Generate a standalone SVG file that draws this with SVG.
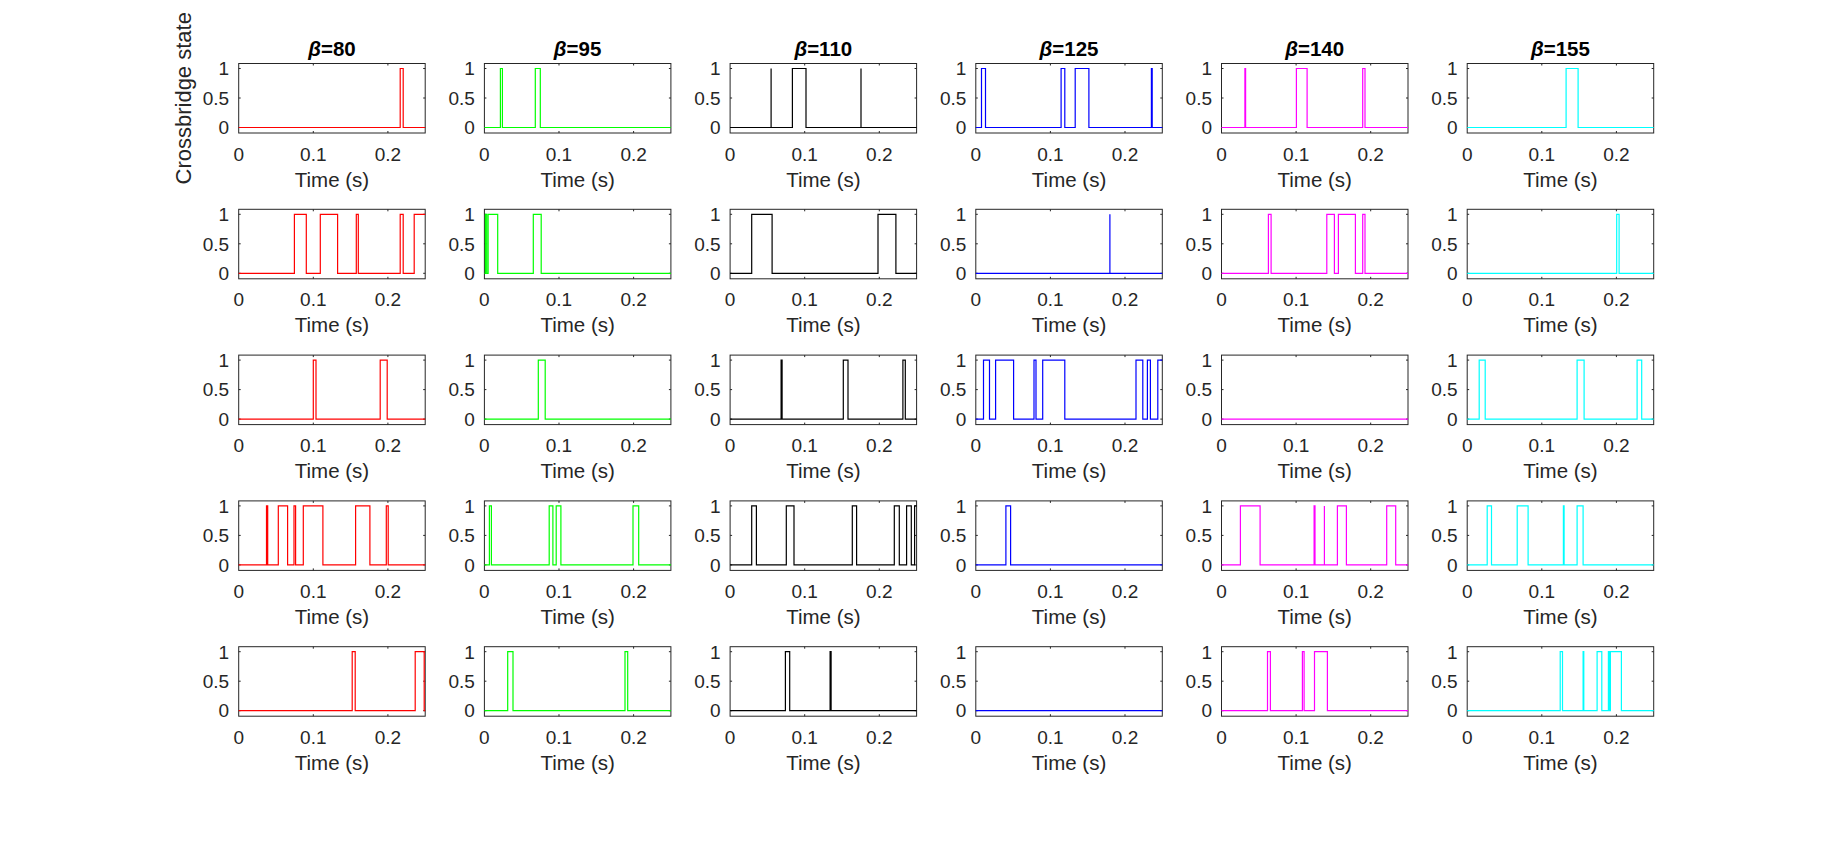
<svg xmlns="http://www.w3.org/2000/svg" xmlns:xlink="http://www.w3.org/1999/xlink" width="1828" height="844" viewBox="0 0 1828 844">
<style>
.box{fill:none;stroke:#262626;stroke-width:1}
.tk{fill:none;stroke:#262626;stroke-width:1}
.tl{font-family:"Liberation Sans",Arial,sans-serif;font-size:19px;fill:#262626}
.xt{text-anchor:middle}
.yt{text-anchor:end}
.xl{font-family:"Liberation Sans",Arial,sans-serif;font-size:20.5px;fill:#262626;text-anchor:middle}
.yl{font-family:"Liberation Sans",Arial,sans-serif;font-size:22px;fill:#262626;text-anchor:middle}
.ti{font-family:"Liberation Sans",Arial,sans-serif;font-size:20.5px;font-weight:bold;fill:#000;text-anchor:middle}
.d{fill:none;stroke-width:1.2;stroke-linejoin:miter}
.c1{stroke:#ff0000}.c2{stroke:#00ff00}.c3{stroke:#000000}.c4{stroke:#0000ff}.c5{stroke:#ff00ff}.c6{stroke:#00ffff}
</style>
<defs>
<g id="fr"><rect class="box" x="0" y="0" width="186.5" height="69.5"/><path class="tk" d="M74.6 0v2M149.2 0v2M74.6 69.5v-2M149.2 69.5v-2M0 5h2M0 34.5h2M0 64h2M186.5 5h-2M186.5 34.5h-2M186.5 64h-2"/></g>
</defs>
<rect x="0" y="0" width="1828" height="844" fill="#ffffff"/>
<text class="yl" transform="translate(190.5,98.3) rotate(-90)">Crossbridge state</text>
<g id="titles">
<text class="ti" x="332" y="55.5"><tspan font-style="italic">β</tspan>=80</text>
<text class="ti" x="577.6" y="55.5"><tspan font-style="italic">β</tspan>=95</text>
<text class="ti" x="823.3" y="55.5"><tspan font-style="italic">β</tspan>=110</text>
<text class="ti" x="1069" y="55.5"><tspan font-style="italic">β</tspan>=125</text>
<text class="ti" x="1314.7" y="55.5"><tspan font-style="italic">β</tspan>=140</text>
<text class="ti" x="1560.4" y="55.5"><tspan font-style="italic">β</tspan>=155</text>
</g>

<!-- Column 1 -->
<g id="r1c1" transform="translate(238.7,63.5)"><use xlink:href="#fr"/><path class="d c1" d="M0 64H161.5V5H164.5V64H186.5"/>
<text class="tl yt" x="-9.5" y="11.8">1</text><text class="tl yt" x="-9.5" y="41.3">0.5</text><text class="tl yt" x="-9.5" y="70.8">0</text>
<text class="tl xt" x="0" y="97">0</text><text class="tl xt" x="74.6" y="97">0.1</text><text class="tl xt" x="149.2" y="97">0.2</text><text class="xl" x="93.25" y="123">Time (s)</text></g>
<g id="r2c1" transform="translate(238.7,209.3)"><use xlink:href="#fr"/><path class="d c1" d="M0 64H55.7V5H67.6V64H81.6V5H98.9V64H117.6V5H119.6V64H161.5V5H164.5V64H175.5V5H186.5"/>
<text class="tl yt" x="-9.5" y="11.8">1</text><text class="tl yt" x="-9.5" y="41.3">0.5</text><text class="tl yt" x="-9.5" y="70.8">0</text>
<text class="tl xt" x="0" y="97">0</text><text class="tl xt" x="74.6" y="97">0.1</text><text class="tl xt" x="149.2" y="97">0.2</text><text class="xl" x="93.25" y="123">Time (s)</text></g>
<g id="r3c1" transform="translate(238.7,355.1)"><use xlink:href="#fr"/><path class="d c1" d="M0 64H74.6V5H77.3V64H141.5V5H148.5V64H186.5"/>
<text class="tl yt" x="-9.5" y="11.8">1</text><text class="tl yt" x="-9.5" y="41.3">0.5</text><text class="tl yt" x="-9.5" y="70.8">0</text>
<text class="tl xt" x="0" y="97">0</text><text class="tl xt" x="74.6" y="97">0.1</text><text class="tl xt" x="149.2" y="97">0.2</text><text class="xl" x="93.25" y="123">Time (s)</text></g>
<g id="r4c1" transform="translate(238.7,500.9)"><use xlink:href="#fr"/><path class="d c1" d="M0 64H27.8V5H29V64H39.6V5H48.9V64H55.3V5H56.9V64H64.6V5H84.2V64H116.9V5H131.2V64H147.6V5H149.5V64H186.5"/>
<text class="tl yt" x="-9.5" y="11.8">1</text><text class="tl yt" x="-9.5" y="41.3">0.5</text><text class="tl yt" x="-9.5" y="70.8">0</text>
<text class="tl xt" x="0" y="97">0</text><text class="tl xt" x="74.6" y="97">0.1</text><text class="tl xt" x="149.2" y="97">0.2</text><text class="xl" x="93.25" y="123">Time (s)</text></g>
<g id="r5c1" transform="translate(238.7,646.7)"><use xlink:href="#fr"/><path class="d c1" d="M0 64H113.5V5H116.5V64H176.5V5H185.5V64H186.5"/>
<text class="tl yt" x="-9.5" y="11.8">1</text><text class="tl yt" x="-9.5" y="41.3">0.5</text><text class="tl yt" x="-9.5" y="70.8">0</text>
<text class="tl xt" x="0" y="97">0</text><text class="tl xt" x="74.6" y="97">0.1</text><text class="tl xt" x="149.2" y="97">0.2</text><text class="xl" x="93.25" y="123">Time (s)</text></g>

<!-- Column 2 -->
<g id="r1c2" transform="translate(484.4,63.5)"><use xlink:href="#fr"/><path class="d c2" d="M0 64H16V5H18V64H50.9V5H55.9V64H186.5"/>
<text class="tl yt" x="-9.5" y="11.8">1</text><text class="tl yt" x="-9.5" y="41.3">0.5</text><text class="tl yt" x="-9.5" y="70.8">0</text>
<text class="tl xt" x="0" y="97">0</text><text class="tl xt" x="74.6" y="97">0.1</text><text class="tl xt" x="149.2" y="97">0.2</text><text class="xl" x="93.25" y="123">Time (s)</text></g>
<g id="r2c2" transform="translate(484.4,209.3)"><use xlink:href="#fr"/><path class="d c2" d="M0 64H1V5H2.3V64H3.7V5H13.3V64H48.9V5H56.8V64H186.5"/>
<text class="tl yt" x="-9.5" y="11.8">1</text><text class="tl yt" x="-9.5" y="41.3">0.5</text><text class="tl yt" x="-9.5" y="70.8">0</text>
<text class="tl xt" x="0" y="97">0</text><text class="tl xt" x="74.6" y="97">0.1</text><text class="tl xt" x="149.2" y="97">0.2</text><text class="xl" x="93.25" y="123">Time (s)</text></g>
<g id="r3c2" transform="translate(484.4,355.1)"><use xlink:href="#fr"/><path class="d c2" d="M0 64H53.9V5H60.8V64H186.5"/>
<text class="tl yt" x="-9.5" y="11.8">1</text><text class="tl yt" x="-9.5" y="41.3">0.5</text><text class="tl yt" x="-9.5" y="70.8">0</text>
<text class="tl xt" x="0" y="97">0</text><text class="tl xt" x="74.6" y="97">0.1</text><text class="tl xt" x="149.2" y="97">0.2</text><text class="xl" x="93.25" y="123">Time (s)</text></g>
<g id="r4c2" transform="translate(484.4,500.9)"><use xlink:href="#fr"/><path class="d c2" d="M0 64H5V5H7V64H64.8V5H68.5V64H71.8V5H76.5V64H148.6V5H154.3V64H186.5"/>
<text class="tl yt" x="-9.5" y="11.8">1</text><text class="tl yt" x="-9.5" y="41.3">0.5</text><text class="tl yt" x="-9.5" y="70.8">0</text>
<text class="tl xt" x="0" y="97">0</text><text class="tl xt" x="74.6" y="97">0.1</text><text class="tl xt" x="149.2" y="97">0.2</text><text class="xl" x="93.25" y="123">Time (s)</text></g>
<g id="r5c2" transform="translate(484.4,646.7)"><use xlink:href="#fr"/><path class="d c2" d="M0 64H23.3V5H28.6V64H140.6V5H143.3V64H186.5"/>
<text class="tl yt" x="-9.5" y="11.8">1</text><text class="tl yt" x="-9.5" y="41.3">0.5</text><text class="tl yt" x="-9.5" y="70.8">0</text>
<text class="tl xt" x="0" y="97">0</text><text class="tl xt" x="74.6" y="97">0.1</text><text class="tl xt" x="149.2" y="97">0.2</text><text class="xl" x="93.25" y="123">Time (s)</text></g>

<!-- Column 3 -->
<g id="r1c3" transform="translate(730.1,63.5)"><use xlink:href="#fr"/><path class="d c3" d="M0 64H41V5V64H62.3V5H75.9V64H130.9V5V64H186.5"/>
<text class="tl yt" x="-9.5" y="11.8">1</text><text class="tl yt" x="-9.5" y="41.3">0.5</text><text class="tl yt" x="-9.5" y="70.8">0</text>
<text class="tl xt" x="0" y="97">0</text><text class="tl xt" x="74.6" y="97">0.1</text><text class="tl xt" x="149.2" y="97">0.2</text><text class="xl" x="93.25" y="123">Time (s)</text></g>
<g id="r2c3" transform="translate(730.1,209.3)"><use xlink:href="#fr"/><path class="d c3" d="M0 64H21.6V5H42V64H147.9V5H165.8V64H186.5"/>
<text class="tl yt" x="-9.5" y="11.8">1</text><text class="tl yt" x="-9.5" y="41.3">0.5</text><text class="tl yt" x="-9.5" y="70.8">0</text>
<text class="tl xt" x="0" y="97">0</text><text class="tl xt" x="74.6" y="97">0.1</text><text class="tl xt" x="149.2" y="97">0.2</text><text class="xl" x="93.25" y="123">Time (s)</text></g>
<g id="r3c3" transform="translate(730.1,355.1)"><use xlink:href="#fr"/><path class="d c3" d="M0 64H51V5H52V64H113.2V5H117.9V64H172.8V5H175.2V64H186.5"/>
<text class="tl yt" x="-9.5" y="11.8">1</text><text class="tl yt" x="-9.5" y="41.3">0.5</text><text class="tl yt" x="-9.5" y="70.8">0</text>
<text class="tl xt" x="0" y="97">0</text><text class="tl xt" x="74.6" y="97">0.1</text><text class="tl xt" x="149.2" y="97">0.2</text><text class="xl" x="93.25" y="123">Time (s)</text></g>
<g id="r4c3" transform="translate(730.1,500.9)"><use xlink:href="#fr"/><path class="d c3" d="M0 64H21.6V5H26.3V64H56.2V5H63.9V64H122.2V5H126.5V64H164.2V5H169.2V64H176.5V5H181.2V64H184.5V5H186.5"/>
<text class="tl yt" x="-9.5" y="11.8">1</text><text class="tl yt" x="-9.5" y="41.3">0.5</text><text class="tl yt" x="-9.5" y="70.8">0</text>
<text class="tl xt" x="0" y="97">0</text><text class="tl xt" x="74.6" y="97">0.1</text><text class="tl xt" x="149.2" y="97">0.2</text><text class="xl" x="93.25" y="123">Time (s)</text></g>
<g id="r5c3" transform="translate(730.1,646.7)"><use xlink:href="#fr"/><path class="d c3" d="M0 64H55.3V5H59.6V64H100V5H101V64H186.5"/>
<text class="tl yt" x="-9.5" y="11.8">1</text><text class="tl yt" x="-9.5" y="41.3">0.5</text><text class="tl yt" x="-9.5" y="70.8">0</text>
<text class="tl xt" x="0" y="97">0</text><text class="tl xt" x="74.6" y="97">0.1</text><text class="tl xt" x="149.2" y="97">0.2</text><text class="xl" x="93.25" y="123">Time (s)</text></g>

<!-- Column 4 -->
<g id="r1c4" transform="translate(975.8,63.5)"><use xlink:href="#fr"/><path class="d c4" d="M0 64H5.7V5H9.7V64H85.3V5H89V64H99.4V5H113.1V64H175.6V5H176.4V64H186.5"/>
<text class="tl yt" x="-9.5" y="11.8">1</text><text class="tl yt" x="-9.5" y="41.3">0.5</text><text class="tl yt" x="-9.5" y="70.8">0</text>
<text class="tl xt" x="0" y="97">0</text><text class="tl xt" x="74.6" y="97">0.1</text><text class="tl xt" x="149.2" y="97">0.2</text><text class="xl" x="93.25" y="123">Time (s)</text></g>
<g id="r2c4" transform="translate(975.8,209.3)"><use xlink:href="#fr"/><path class="d c4" d="M0 64H134.1V5V64H186.5"/>
<text class="tl yt" x="-9.5" y="11.8">1</text><text class="tl yt" x="-9.5" y="41.3">0.5</text><text class="tl yt" x="-9.5" y="70.8">0</text>
<text class="tl xt" x="0" y="97">0</text><text class="tl xt" x="74.6" y="97">0.1</text><text class="tl xt" x="149.2" y="97">0.2</text><text class="xl" x="93.25" y="123">Time (s)</text></g>
<g id="r3c4" transform="translate(975.8,355.1)"><use xlink:href="#fr"/><path class="d c4" d="M0 64H7.7V5H13.7V64H19.8V5H37.8V64H58.2V5H60.2V64H66.9V5H89V64H160.2V5H167V64H171.6V5H174.6V64H182V5H186.5"/>
<text class="tl yt" x="-9.5" y="11.8">1</text><text class="tl yt" x="-9.5" y="41.3">0.5</text><text class="tl yt" x="-9.5" y="70.8">0</text>
<text class="tl xt" x="0" y="97">0</text><text class="tl xt" x="74.6" y="97">0.1</text><text class="tl xt" x="149.2" y="97">0.2</text><text class="xl" x="93.25" y="123">Time (s)</text></g>
<g id="r4c4" transform="translate(975.8,500.9)"><use xlink:href="#fr"/><path class="d c4" d="M0 64H30.1V5H34.8V64H186.5"/>
<text class="tl yt" x="-9.5" y="11.8">1</text><text class="tl yt" x="-9.5" y="41.3">0.5</text><text class="tl yt" x="-9.5" y="70.8">0</text>
<text class="tl xt" x="0" y="97">0</text><text class="tl xt" x="74.6" y="97">0.1</text><text class="tl xt" x="149.2" y="97">0.2</text><text class="xl" x="93.25" y="123">Time (s)</text></g>
<g id="r5c4" transform="translate(975.8,646.7)"><use xlink:href="#fr"/><path class="d c4" d="M0 64H186.5"/>
<text class="tl yt" x="-9.5" y="11.8">1</text><text class="tl yt" x="-9.5" y="41.3">0.5</text><text class="tl yt" x="-9.5" y="70.8">0</text>
<text class="tl xt" x="0" y="97">0</text><text class="tl xt" x="74.6" y="97">0.1</text><text class="tl xt" x="149.2" y="97">0.2</text><text class="xl" x="93.25" y="123">Time (s)</text></g>

<!-- Column 5 -->
<g id="r1c5" transform="translate(1221.5,63.5)"><use xlink:href="#fr"/><path class="d c5" d="M0 64H23.4V5H24.1V64H74.9V5H85.6V64H141.2V5H143.5V64H186.5"/>
<text class="tl yt" x="-9.5" y="11.8">1</text><text class="tl yt" x="-9.5" y="41.3">0.5</text><text class="tl yt" x="-9.5" y="70.8">0</text>
<text class="tl xt" x="0" y="97">0</text><text class="tl xt" x="74.6" y="97">0.1</text><text class="tl xt" x="149.2" y="97">0.2</text><text class="xl" x="93.25" y="123">Time (s)</text></g>
<g id="r2c5" transform="translate(1221.5,209.3)"><use xlink:href="#fr"/><path class="d c5" d="M0 64H46.9V5H49.6V64H105.3V5H112.9V64H116.9V5H133.9V64H141.2V5H143.5V64H186.5"/>
<text class="tl yt" x="-9.5" y="11.8">1</text><text class="tl yt" x="-9.5" y="41.3">0.5</text><text class="tl yt" x="-9.5" y="70.8">0</text>
<text class="tl xt" x="0" y="97">0</text><text class="tl xt" x="74.6" y="97">0.1</text><text class="tl xt" x="149.2" y="97">0.2</text><text class="xl" x="93.25" y="123">Time (s)</text></g>
<g id="r3c5" transform="translate(1221.5,355.1)"><use xlink:href="#fr"/><path class="d c5" d="M0 64H186.5"/>
<text class="tl yt" x="-9.5" y="11.8">1</text><text class="tl yt" x="-9.5" y="41.3">0.5</text><text class="tl yt" x="-9.5" y="70.8">0</text>
<text class="tl xt" x="0" y="97">0</text><text class="tl xt" x="74.6" y="97">0.1</text><text class="tl xt" x="149.2" y="97">0.2</text><text class="xl" x="93.25" y="123">Time (s)</text></g>
<g id="r4c5" transform="translate(1221.5,500.9)"><use xlink:href="#fr"/><path class="d c5" d="M0 64H18.9V5H38.6V64H92.6V5H93.5V64H102.9V5V64H115.9V5H124.9V64H165.2V5H174.2V64H186.5"/>
<text class="tl yt" x="-9.5" y="11.8">1</text><text class="tl yt" x="-9.5" y="41.3">0.5</text><text class="tl yt" x="-9.5" y="70.8">0</text>
<text class="tl xt" x="0" y="97">0</text><text class="tl xt" x="74.6" y="97">0.1</text><text class="tl xt" x="149.2" y="97">0.2</text><text class="xl" x="93.25" y="123">Time (s)</text></g>
<g id="r5c5" transform="translate(1221.5,646.7)"><use xlink:href="#fr"/><path class="d c5" d="M0 64H46V5H48.9V64H80.9V5H82.6V64H93V5H105.9V64H186.5"/>
<text class="tl yt" x="-9.5" y="11.8">1</text><text class="tl yt" x="-9.5" y="41.3">0.5</text><text class="tl yt" x="-9.5" y="70.8">0</text>
<text class="tl xt" x="0" y="97">0</text><text class="tl xt" x="74.6" y="97">0.1</text><text class="tl xt" x="149.2" y="97">0.2</text><text class="xl" x="93.25" y="123">Time (s)</text></g>

<!-- Column 6 -->
<g id="r1c6" transform="translate(1467.2,63.5)"><use xlink:href="#fr"/><path class="d c6" d="M0 64H98.9V5H110.9V64H186.5"/>
<text class="tl yt" x="-9.5" y="11.8">1</text><text class="tl yt" x="-9.5" y="41.3">0.5</text><text class="tl yt" x="-9.5" y="70.8">0</text>
<text class="tl xt" x="0" y="97">0</text><text class="tl xt" x="74.6" y="97">0.1</text><text class="tl xt" x="149.2" y="97">0.2</text><text class="xl" x="93.25" y="123">Time (s)</text></g>
<g id="r2c6" transform="translate(1467.2,209.3)"><use xlink:href="#fr"/><path class="d c6" d="M0 64H149.5V5H151.9V64H186.5"/>
<text class="tl yt" x="-9.5" y="11.8">1</text><text class="tl yt" x="-9.5" y="41.3">0.5</text><text class="tl yt" x="-9.5" y="70.8">0</text>
<text class="tl xt" x="0" y="97">0</text><text class="tl xt" x="74.6" y="97">0.1</text><text class="tl xt" x="149.2" y="97">0.2</text><text class="xl" x="93.25" y="123">Time (s)</text></g>
<g id="r3c6" transform="translate(1467.2,355.1)"><use xlink:href="#fr"/><path class="d c6" d="M0 64H12V5H18V64H109.9V5H116.9V64H169.9V5H174.5V64H186.5"/>
<text class="tl yt" x="-9.5" y="11.8">1</text><text class="tl yt" x="-9.5" y="41.3">0.5</text><text class="tl yt" x="-9.5" y="70.8">0</text>
<text class="tl xt" x="0" y="97">0</text><text class="tl xt" x="74.6" y="97">0.1</text><text class="tl xt" x="149.2" y="97">0.2</text><text class="xl" x="93.25" y="123">Time (s)</text></g>
<g id="r4c6" transform="translate(1467.2,500.9)"><use xlink:href="#fr"/><path class="d c6" d="M0 64H20V5H24.3V64H50V5H60.9V64H96.2V5H96.9V64H109.9V5H115.9V64H186.5"/>
<text class="tl yt" x="-9.5" y="11.8">1</text><text class="tl yt" x="-9.5" y="41.3">0.5</text><text class="tl yt" x="-9.5" y="70.8">0</text>
<text class="tl xt" x="0" y="97">0</text><text class="tl xt" x="74.6" y="97">0.1</text><text class="tl xt" x="149.2" y="97">0.2</text><text class="xl" x="93.25" y="123">Time (s)</text></g>
<g id="r5c6" transform="translate(1467.2,646.7)"><use xlink:href="#fr"/><path class="d c6" d="M0 64H93V5H95.3V64H115.9V5H116.6V64H129.9V5H134.6V64H141.2V5H142.2V64H143.2V5H154.2V64H186.5"/>
<text class="tl yt" x="-9.5" y="11.8">1</text><text class="tl yt" x="-9.5" y="41.3">0.5</text><text class="tl yt" x="-9.5" y="70.8">0</text>
<text class="tl xt" x="0" y="97">0</text><text class="tl xt" x="74.6" y="97">0.1</text><text class="tl xt" x="149.2" y="97">0.2</text><text class="xl" x="93.25" y="123">Time (s)</text></g>
</svg>
